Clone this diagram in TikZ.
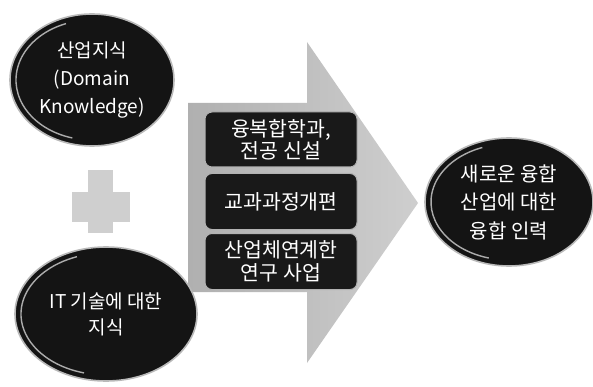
\documentclass[tikz,border=0pt]{standalone}
\usepackage{fontspec}
\setmainfont{Noto Sans CJK KR}
\usetikzlibrary{shapes.geometric}
\begin{document}
\begin{tikzpicture}[x=1pt,y=-1pt,
 ell/.style={ellipse, fill=black!92, draw=gray!55, line width=1.6pt, text=white, align=center, inner sep=0pt},
 rim/.style={gray!65, line width=1.4pt},
 box/.style={rounded corners=7pt, fill=black!90, draw=gray!60, line width=1pt, text=white, align=center, minimum width=152pt, inner sep=0pt, font=\fontsize{20.5}{22.5}\selectfont},
 plus/.style={fill=gray!38}]
\useasboundingbox (0,0) rectangle (593,387);
\fill[white] (0,0) rectangle (593,387);
% big arrow
\shade[left color=gray!62, right color=gray!38] (188,103) -- (307,103) -- (307,42) -- (418,203) -- (307,363) -- (307,292) -- (188,292) -- cycle;
% plus sign
\fill[plus] (88,170) rectangle (113,233);
\fill[plus] (72,192) rectangle (130,222);
% ellipses
\node[ell, minimum width=164pt, minimum height=132pt, font=\fontsize{19}{28}\selectfont] (dom) at (92,80) {산업지식\\(Domain\\Knowledge)};
\draw[rim] (dom.center) ++(105:76 and 60) arc[start angle=105, end angle=250, x radius=76, y radius=60];
\node[ell, minimum width=182pt, minimum height=134pt, font=\fontsize{19}{26}\selectfont] (it) at (106,314) {IT 기술에 대한\\지식};
\draw[rim] (it.center) ++(105:85 and 61) arc[start angle=105, end angle=250, x radius=85, y radius=61];
\node[ell, minimum width=168pt, minimum height=128pt, font=\fontsize{20}{28.5}\selectfont] (res) at (509,202) {새로운 융합\\산업에 대한\\융합 인력};
\draw[rim] (res.center) ++(105:78 and 58) arc[start angle=105, end angle=250, x radius=78, y radius=58];
% boxes
\node[box, minimum height=55pt] (b1) at (281,139.5) {융복합학과,\\전공 신설};
\node[box, minimum height=56pt] (b2) at (281,201.5) {교과과정개편};
\node[box, minimum height=56pt] (b3) at (281,261.5) {산업체연계한\\연구 사업};
\end{tikzpicture}
\end{document}
